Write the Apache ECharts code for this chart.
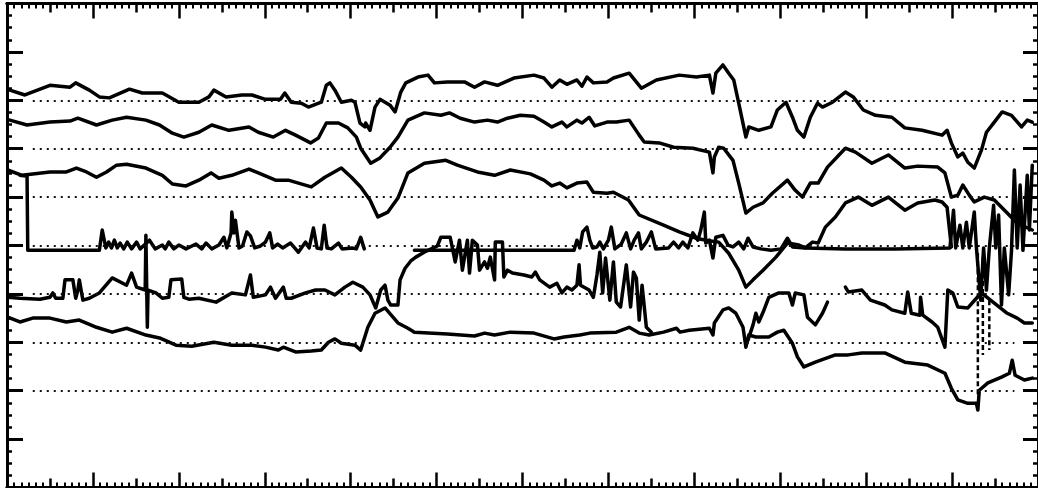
<!DOCTYPE html>
<html>
<head>
<meta charset="utf-8">
<script src="https://cdn.jsdelivr.net/npm/echarts@6/dist/echarts.min.js"></script>
<style>
html,body{margin:0;padding:0;background:#fff;}
#chart{width:1038px;height:488px;}
</style>
</head>
<body>
<div id="chart"></div>
<script>
// x: 0..144 (12 major periods, 12 minor units each); y: 0..100 (major every 10)
const gridLevels = [20, 30, 40, 50, 60, 70, 80];
const gridSpan = [3.6, 140.7];

const seriesA = [[0.4,82.1],[2.5,81.1],[6.0,83.1],[8.8,82.7],[9.6,83.6],[11.5,82.1],[12.9,80.7],[14.3,80.5],[17.1,82.3],[18.9,81.5],[21.7,81.5],[24.0,79.6],[25.8,79.6],[26.8,79.6],[28.2,80.7],[28.9,82.1],[30.6,80.7],[32.8,81.1],[34.2,81.1],[36.1,80.2],[38.2,80.2],[38.8,81.5],[39.7,79.6],[41.1,79.4],[42.1,78.6],[43.9,79.6],[44.6,83.1],[45.1,83.6],[45.8,82.1],[46.7,79.6],[48.1,80.0],[48.6,79.6],[49.3,75.3],[50.0,74.5],[50.1,75.3],[50.7,73.8],[51.4,78.6],[52.1,80.2],[53.5,79.0],[54.2,77.6],[55.0,81.7],[55.7,83.6],[57.4,84.8],[58.8,85.2],[59.7,83.6],[61.5,83.8],[63.9,83.8],[65.3,82.7],[66.7,83.8],[68.5,83.1],[70.8,84.6],[73.6,85.2],[75.0,84.6],[76.1,82.7],[77.2,84.2],[78.2,83.3],[79.6,84.2],[80.3,82.9],[81.0,84.8],[81.9,83.6],[83.8,83.8],[84.7,84.6],[86.9,85.6],[88.6,82.5],[90.7,84.2],[93.9,85.2],[96.3,84.8],[98.1,85.2],[98.6,81.5],[99.0,85.6],[100.0,87.3],[100.8,85.6],[101.5,84.2],[102.2,79.4],[103.2,72.4],[103.6,74.5],[105.0,73.8],[106.7,74.5],[107.6,78.0],[108.8,79.6],[109.7,76.5],[110.4,73.8],[111.3,72.4],[112.2,76.5],[113.2,79.4],[113.9,78.6],[115.3,79.6],[117.1,81.7],[118.2,80.7],[119.6,78.0],[121.3,76.9],[123.6,76.5],[125.4,74.3],[127.8,73.8],[130.6,72.8],[131.3,73.8],[131.9,71.2],[132.8,68.3],[133.5,69.1],[134.2,67.2],[135.1,66.0],[136.1,69.7],[136.8,73.4],[137.9,75.5],[139.0,77.6],[140.3,76.9],[141.7,74.5],[142.5,75.9],[143.2,75.5]];

const seriesB = [[0.4,75.9],[2.8,74.9],[6.0,75.5],[8.8,75.7],[9.9,76.3],[12.5,74.9],[14.7,75.9],[16.7,76.5],[19.4,75.9],[21.3,74.9],[23.1,73.2],[24.7,72.4],[26.8,73.4],[28.6,74.9],[31.0,73.8],[33.8,74.5],[35.1,73.4],[37.2,72.4],[38.9,73.8],[40.3,72.8],[42.4,71.2],[43.5,72.2],[44.6,75.3],[46.3,75.3],[47.6,74.3],[48.8,72.4],[49.4,70.1],[50.8,67.0],[52.1,68.1],[53.5,70.3],[54.6,72.4],[56.0,75.9],[58.3,77.4],[60.6,76.9],[61.8,77.4],[63.3,76.3],[65.3,75.5],[67.1,75.9],[68.5,75.5],[69.9,76.3],[71.7,76.9],[73.6,76.7],[75.0,75.5],[76.1,74.5],[77.5,75.5],[78.2,74.5],[79.6,75.9],[80.3,75.3],[81.3,76.5],[82.1,74.7],[83.8,75.5],[85.1,75.5],[86.9,75.9],[88.3,72.8],[89.0,71.4],[91.1,71.2],[93.1,70.3],[95.8,70.1],[98.1,69.3],[98.6,65.0],[98.8,68.3],[99.4,70.3],[100.1,70.1],[101.4,67.6],[102.2,62.9],[103.2,56.7],[104.2,57.9],[105.6,58.8],[106.9,60.8],[109.0,63.5],[110.1,61.4],[111.1,60.0],[112.2,62.9],[113.3,62.9],[114.6,66.2],[117.1,70.1],[118.5,69.3],[120.8,67.0],[123.1,68.7],[125.4,66.0],[127.2,66.4],[130.0,66.2],[131.0,65.0],[131.9,60.0],[132.8,60.4],[133.5,62.5],[134.4,60.4],[135.1,59.0],[136.5,60.0],[137.9,59.4],[139.7,56.7],[141.1,54.6],[143.2,53.2]];

const seriesC = [[0.1,65.6],[2.1,64.5],[6.0,65.2],[8.3,65.2],[9.7,66.0],[11.1,65.2],[12.5,64.1],[13.9,65.2],[15.3,66.6],[16.7,66.8],[19.4,66.0],[21.7,64.5],[23.1,62.7],[25.0,62.3],[26.8,63.5],[28.5,65.0],[29.6,63.9],[31.4,64.5],[33.8,65.8],[35.1,65.0],[37.5,63.5],[39.3,63.5],[40.7,62.9],[42.5,62.1],[44.4,64.1],[46.7,66.0],[48.1,64.1],[49.4,62.1],[50.7,59.4],[51.8,55.9],[53.2,56.9],[54.6,59.8],[56.0,65.0],[58.3,67.0],[61.3,67.6],[62.9,66.6],[65.7,65.2],[68.1,64.5],[70.3,65.6],[73.1,64.8],[75.0,63.5],[76.1,62.3],[77.2,62.9],[78.2,61.9],[79.6,62.9],[81.0,63.1],[81.9,61.0],[83.8,60.8],[84.7,61.0],[86.8,59.4],[88.3,56.3],[91.7,54.2],[93.9,52.8],[96.3,51.5],[97.6,51.1],[99.4,50.7],[100.8,48.4],[102.2,44.9],[103.2,41.4],[104.2,42.9],[105.6,44.9],[107.4,47.6],[109.0,50.5],[110.6,50.1],[111.5,49.5],[112.5,50.7],[113.3,50.5],[114.3,53.8],[115.7,55.9],[117.1,58.8],[118.9,60.0],[120.8,58.3],[123.1,60.0],[125.4,57.3],[127.2,58.8],[129.6,59.4],[130.6,59.0],[131.3,57.9],[131.9,49.7]];

const seriesD = [[1.8,64.5],[2.8,64.3],[2.9,49.0],[12.9,49.0],[13.3,53.2],[13.8,49.5],[14.2,50.7],[14.6,49.5],[15.0,51.1],[15.4,49.5],[15.8,50.5],[16.3,49.3],[16.8,50.7],[17.4,49.3],[18.1,50.7],[18.6,49.3],[19.9,51.1],[20.7,49.3],[21.7,50.1],[22.1,49.3],[22.6,50.7],[23.3,49.3],[24.0,50.1],[25.0,49.3],[26.4,50.3],[27.2,49.3],[27.8,50.5],[28.6,49.3],[29.6,50.1],[30.3,51.7],[30.7,49.5],[31.3,52.6],[31.4,56.9],[31.7,52.6],[31.9,55.2],[32.4,49.5],[32.9,49.9],[33.5,52.8],[34.0,52.0],[34.6,49.5],[35.4,49.9],[36.1,50.7],[36.7,52.6],[37.1,49.5],[37.8,50.3],[38.5,49.5],[39.6,50.5],[40.3,49.3],[40.7,48.6],[41.7,50.7],[42.2,49.5],[42.8,53.6],[43.3,49.5],[43.9,49.3],[44.3,54.2],[44.7,49.5],[45.3,49.3],[46.3,50.5],[46.8,49.3],[48.2,49.5],[48.8,49.3],[49.4,51.7],[49.9,49.3],[53.0,'-'],[56.9,49.0],[79.2,49.0],[79.6,51.1],[80.0,49.5],[80.4,52.8],[81.0,53.8],[81.4,51.1],[81.8,49.5],[82.4,49.7],[82.8,50.7],[83.3,49.3],[84.0,51.1],[84.4,53.8],[84.9,49.3],[85.8,50.3],[86.5,52.6],[87.1,49.3],[87.6,51.1],[88.2,52.6],[88.6,49.3],[89.3,50.7],[90.0,52.8],[90.6,49.3],[92.4,49.5],[93.1,50.7],[93.8,49.5],[94.4,50.7],[95.1,49.5],[95.8,52.6],[96.5,51.1],[96.9,53.2],[97.4,56.9],[97.6,50.5],[98.1,51.1],[98.6,47.4],[99.0,51.7],[100.0,52.1],[100.7,50.1],[101.4,49.7],[102.2,50.7],[102.9,49.3],[103.5,51.5],[104.2,49.7],[105.3,49.3],[106.7,49.0],[108.1,49.3],[109.0,51.5],[109.7,49.7],[111.5,49.5],[117.1,49.3],[124.0,49.3],[131.7,49.5],[132.2,57.3],[132.5,49.5],[133.1,54.2],[133.5,49.5],[134.0,54.8],[134.4,49.5],[135.1,56.9],[135.4,49.5],[136.0,38.7],[136.4,49.5],[136.8,40.8],[137.2,49.5],[137.8,58.3],[138.1,49.5],[138.5,56.3],[138.9,37.7],[139.3,49.5],[139.9,39.8],[140.3,49.0],[140.7,65.6],[141.1,49.5],[141.5,62.5],[141.9,49.0],[142.5,64.5],[142.8,53.2],[143.2,66.6]];

const seriesE = [[0.1,39.3],[1.8,39.1],[4.6,38.9],[6.0,39.3],[6.4,40.2],[6.8,39.1],[7.8,39.1],[8.1,42.9],[9.2,42.9],[9.6,39.1],[9.9,40.8],[10.1,42.9],[10.6,38.7],[11.5,39.1],[12.9,40.2],[14.7,43.3],[16.7,41.8],[17.4,44.3],[18.1,41.4],[19.3,40.8],[19.4,52.1],[19.6,33.1],[19.7,40.8],[20.8,40.2],[21.7,39.1],[22.6,39.3],[22.9,42.9],[24.4,43.1],[24.7,39.3],[25.4,38.9],[26.8,39.1],[29.2,38.3],[31.4,40.2],[33.3,39.8],[34.0,43.9],[34.4,39.3],[36.1,39.8],[36.8,41.4],[37.5,39.1],[38.6,41.4],[39.0,39.1],[39.7,39.1],[41.7,40.2],[43.1,40.8],[44.4,40.8],[45.8,39.8],[47.2,41.4],[48.3,42.4],[49.7,41.4],[50.7,39.8],[51.5,37.1],[52.2,40.8],[52.8,41.8],[53.2,38.7],[53.6,37.7],[54.6,37.7],[54.9,42.9],[55.6,45.3],[56.4,46.8],[57.1,47.6],[58.5,48.8],[60.1,49.9],[60.6,51.7],[61.9,51.7],[62.6,46.6],[63.2,51.1],[63.6,44.9],[64.3,51.1],[64.6,44.3],[65.0,51.1],[65.7,50.1],[66.0,44.9],[66.7,46.6],[67.1,45.3],[67.5,47.6],[68.1,42.9],[68.2,50.7],[69.2,50.7],[69.4,43.5],[69.9,44.9],[70.6,44.3],[72.2,43.9],[73.3,43.5],[73.8,44.5],[74.4,42.9],[75.8,41.4],[76.8,42.2],[77.5,40.2],[78.2,41.4],[78.9,40.8],[79.6,41.8],[79.9,46.0],[80.1,41.8],[81.3,40.8],[81.9,39.3],[82.4,43.9],[82.8,48.6],[83.2,40.2],[83.6,47.4],[84.2,38.7],[84.7,46.6],[85.1,38.3],[85.7,37.3],[86.5,46.0],[87.1,37.3],[87.5,44.5],[87.9,43.3],[88.3,34.6],[88.7,41.8],[89.3,33.1],[90.0,32.1],[95.0,'-'],[103.5,30.5],[104.2,33.6],[104.6,36.0],[105.0,34.2],[105.6,36.2],[106.4,39.3],[107.8,40.2],[109.2,40.2],[109.7,37.7],[110.1,40.2],[111.3,39.8],[111.8,35.2],[112.9,33.6],[113.9,36.0],[114.6,38.3],[116.0,'-'],[117.1,41.4],[117.5,40.4],[119.4,40.8],[120.6,38.7],[122.6,37.7],[123.6,36.7],[125.4,36.0],[125.8,40.4],[126.3,36.0],[127.5,35.6],[127.6,39.3],[127.9,35.6],[129.2,34.2],[130.0,33.1],[131.0,29.0],[131.4,40.8],[132.1,40.2],[132.8,37.3],[134.2,37.1],[135.4,39.1],[136.1,40.2],[137.9,38.1],[139.7,36.0],[141.1,35.0],[142.1,34.0],[143.2,34.0]];

const seriesF = [[0.1,35.2],[1.8,34.2],[3.6,35.0],[6.0,35.0],[8.3,34.2],[10.1,34.6],[12.5,33.1],[14.7,32.1],[16.7,32.9],[19.4,31.5],[21.3,30.9],[23.6,29.4],[25.8,29.2],[28.9,30.0],[31.4,29.4],[34.2,29.4],[36.1,29.0],[37.9,28.4],[38.6,29.0],[40.3,28.0],[42.5,28.2],[43.9,28.4],[44.9,30.0],[45.8,30.7],[46.7,29.8],[48.6,29.4],[49.4,28.4],[50.4,33.1],[51.4,36.0],[52.8,37.1],[54.6,34.0],[56.0,32.9],[56.9,32.1],[61.5,31.7],[65.3,31.3],[66.7,31.9],[68.1,31.5],[70.3,32.1],[73.6,31.9],[76.4,30.7],[77.8,31.1],[80.0,31.5],[81.4,31.9],[85.1,32.1],[86.9,33.1],[88.3,31.9],[89.7,31.5],[91.7,32.1],[93.5,32.9],[94.0,32.1],[95.3,32.5],[98.1,32.9],[98.6,31.5],[98.8,34.0],[100.0,36.7],[100.8,37.1],[101.8,36.0],[102.8,33.1],[103.2,29.0],[103.6,31.5],[104.6,31.1],[106.4,31.1],[107.6,32.1],[108.5,32.5],[109.7,29.8],[110.4,27.0],[111.3,24.9],[112.9,25.9],[115.7,27.4],[117.5,27.4],[119.4,27.8],[122.6,27.8],[125.4,25.9],[128.6,25.3],[131.0,23.6],[131.9,20.5],[132.8,18.1],[134.2,17.4],[135.4,17.4],[135.6,16.0],[135.8,20.1],[137.0,21.6],[138.9,22.8],[140.0,23.6],[140.4,26.3],[140.8,23.2],[142.1,22.2],[143.2,22.6]];

const seriesSpikes = [[135.6,48.4],[135.6,19.1],[135.9,'-'],[136.3,47.6],[136.3,27.4],[136.7,'-'],[137.2,38.7],[137.2,28.4]];

const ink = '#000000';
function lineSeries(name, data, extra) {
  return Object.assign({
    name: name, type: 'line', data: data, showSymbol: false, symbol: 'none',
    connectNulls: false, silent: true, animation: false,
    lineStyle: { color: ink, width: 3.5, join: 'round', cap: 'round' }
  }, extra || {});
}

function xAx(pos, interval, tickLen, minor) {
  return {
    type: 'value', position: pos, min: 0, max: 144, interval: interval, offset: 0,
    axisLine: { show: true, onZero: false, lineStyle: { color: ink, width: 3 } },
    axisTick: { show: true, inside: true, length: tickLen, lineStyle: { color: ink, width: 2.5 } },
    minorTick: { show: !!minor, splitNumber: 6, length: 5, lineStyle: { color: ink, width: 2 } },
    axisLabel: { show: false }, splitLine: { show: false }
  };
}
function yAx(pos, tickLen) {
  return {
    type: 'value', position: pos, min: 0, max: 100, interval: 10, offset: 0,
    axisLine: { show: true, onZero: false, lineStyle: { color: ink, width: 3 } },
    axisTick: { show: true, inside: true, length: tickLen, lineStyle: { color: ink, width: 3 } },
    minorTick: { show: true, splitNumber: 4, length: 5, lineStyle: { color: ink, width: 2.5 } },
    axisLabel: { show: false }, splitLine: { show: false }
  };
}

const chart = echarts.init(document.getElementById('chart'), null, { renderer: 'canvas' });
chart.setOption({
  backgroundColor: '#ffffff',
  animation: false,
  grid: { left: 7, top: 3.5, width: 1036.4, height: 484, containLabel: false },
  xAxis: [
    xAx('bottom', 12, 15, false),
    xAx('bottom', 6, 9, true),
    xAx('top', 12, 15, false),
    xAx('top', 6, 9, true)
  ],
  yAxis: [ yAx('left', 16), yAx('right', 15) ],
  series: [
    lineSeries('A', seriesA, {
      markLine: {
        silent: true, symbol: ['none', 'none'], animation: false,
        label: { show: false },
        lineStyle: { color: '#111', width: 2.2, type: [2, 5] },
        data: gridLevels.map(v => [{ coord: [gridSpan[0], v] }, { coord: [gridSpan[1], v] }])
      }
    }),
    lineSeries('B', seriesB),
    lineSeries('C', seriesC),
    lineSeries('D', seriesD),
    lineSeries('E', seriesE),
    lineSeries('F', seriesF),
    lineSeries('spikes', seriesSpikes, { lineStyle: { color: ink, width: 2.5, type: [5, 3] } })
  ]
});
</script>
</body>
</html>
